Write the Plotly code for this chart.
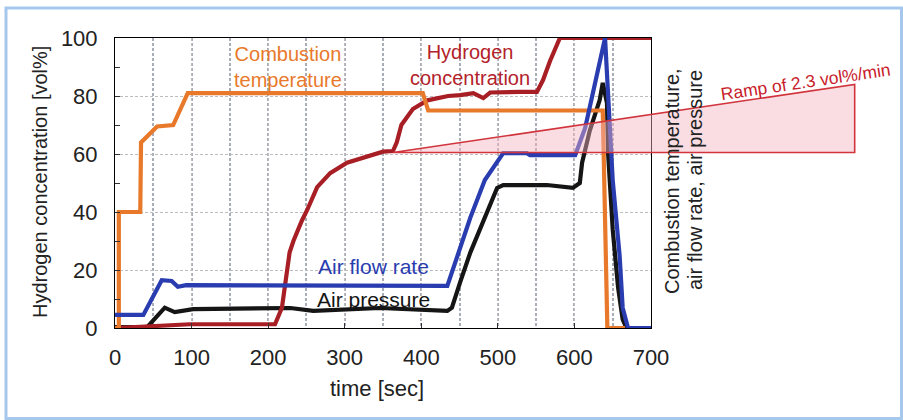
import plotly.graph_objects as go

# ---------------- data ----------------
time_h2 = [0, 63, 98, 209, 212, 218, 228, 233, 244, 251, 264, 281, 303, 329, 350, 363,
           368, 374, 389, 408, 435, 451, 468, 481, 490, 529, 551, 559, 568, 581, 700]
h2_conc = [0, 0.7, 1.3, 1.3, 3, 7, 26, 30, 37, 40.7, 48.6, 53.4, 57, 59, 60.8, 61,
           64, 70, 75.5, 78.5, 80, 80.3, 81, 79.3, 81.2, 81.4, 81.4, 85.5, 92, 100, 100]

time_comb = [0, 5, 5, 33, 34, 55, 76, 95, 402, 409, 637, 643, 666]
comb_temp = [0, 0, 40, 40, 64, 69.5, 70, 81, 81, 75, 75, 0, 0]

time_air = [0, 37, 61, 74, 82, 93, 434, 451, 464, 483, 507, 538, 542, 601, 614, 627,
            640, 650, 654, 659, 663, 670, 700]
air_flow = [4.5, 4.5, 16.5, 16.2, 14.2, 14.8, 14.5, 28, 38, 51, 60.3, 60.3, 59.6, 59.6,
            69, 84.5, 100, 51, 40, 25, 7, 0, 0]

time_pres = [0, 42, 65, 78, 102, 229, 259, 346, 434, 440, 451, 464, 499, 507, 564, 598,
             607, 610, 620, 633, 637, 642.5, 644, 647, 650, 657, 663, 668, 700]
air_pres = [0.3, 0.3, 7, 5.5, 6.5, 6.9, 5.9, 6.9, 5.9, 7, 16, 26, 48.3, 49.3, 49.3, 48.3,
            50, 57, 68, 78.6, 84.5, 77.6, 60, 48, 34, 14, 3, 0, 0]

# ramp annotation (triangle): start point and end point of the 2.3 vol%/min ramp
ramp_t = [363, 966]
ramp_h = [60.5, 84]

x_ticks = [0, 100, 200, 300, 400, 500, 600, 700]
y_ticks = [0, 20, 40, 60, 80, 100]
X_MAX, Y_MAX = 700, 100

# ---------------- colours ----------------
C_ORANGE = "#e8792b"
C_RED = "#a81e25"
C_BLUE = "#2a3db0"
C_BLACK = "#151515"
FONT = "Liberation Sans, Arial, sans-serif"

# plot area in pixels
L, R, T, B = 115, 651, 38, 328
W, H = 903, 420


def px_x(px):
    return (px - L) / (R - L)


def px_y(py):
    return (B - py) / (B - T)


fig = go.Figure()
fig.add_trace(go.Scatter(x=time_pres, y=air_pres, mode="lines",
                         line=dict(color=C_BLACK, width=4.2), name="Air pressure"))
fig.add_trace(go.Scatter(x=time_h2, y=h2_conc, mode="lines",
                         line=dict(color=C_RED, width=4.2), name="Hydrogen concentration"))
fig.add_trace(go.Scatter(x=time_comb, y=comb_temp, mode="lines",
                         line=dict(color=C_ORANGE, width=4.2), name="Combustion temperature"))
fig.add_trace(go.Scatter(x=time_air, y=air_flow, mode="lines",
                         line=dict(color=C_BLUE, width=4.2), name="Air flow rate"))

fig.update_xaxes(range=[0, X_MAX], tickvals=x_ticks, ticks="inside", ticklen=5,
                 tickcolor="#333", showline=True, linecolor="black", linewidth=1,
                 mirror=True, showgrid=True, gridcolor="#bdbdbd", gridwidth=1,
                 griddash="3px,2px", zeroline=False,
                 minor=dict(dtick=50, showgrid=True, gridcolor="#a9adb8", gridwidth=1.5),
                 tickfont=dict(size=22, color="#222", family=FONT),
                 ticklabelstandoff=10)
fig.update_yaxes(range=[0, Y_MAX], tickvals=y_ticks, ticks="inside", ticklen=5,
                 tickcolor="#333", showline=True, linecolor="black", linewidth=1,
                 mirror=True, showgrid=True, gridcolor="#bdbdbd", gridwidth=1,
                 griddash="3px,2px", zeroline=False,
                 minor=dict(dtick=10, ticks="inside", ticklen=5, tickcolor="#333",
                            showgrid=False),
                 tickfont=dict(size=22, color="#222", family=FONT),
                 ticklabelstandoff=12)

# ramp triangle (paper coords derived from data values)
tx0, tx1 = ramp_t[0] / X_MAX, ramp_t[1] / X_MAX
ty0, ty1 = ramp_h[0] / Y_MAX, ramp_h[1] / Y_MAX
shapes = [
    dict(type="path", xref="paper", yref="paper",
         path=f"M {tx0} {ty0} L {tx1} {ty0} L {tx1} {ty1} Z",
         fillcolor="rgba(244,180,190,0.45)", line=dict(color="#d1343c", width=1.6),
         layer="above"),
    dict(type="rect", xref="paper", yref="paper",
         x0=px_x(6), x1=px_x(901.5), y0=px_y(418.5), y1=px_y(8),
         line=dict(color="#a6c8ec", width=3), fillcolor="rgba(0,0,0,0)", layer="below"),
]

ann = []


def text(s, px, py, color="#222", size=20, angle=0):
    ann.append(dict(text=s, x=px_x(px), y=px_y(py), xref="paper", yref="paper",
                    showarrow=False, textangle=angle, xanchor="center", yanchor="middle",
                    font=dict(color=color, size=size, family=FONT)))


text("Combustion<br>temperature", 288, 67, color=C_ORANGE)
text("Hydrogen<br>concentration", 470, 65, color="#b3222a")
text("Air flow rate", 373, 266, color=C_BLUE, size=21)
text("Air pressure", 373, 299, color=C_BLACK, size=21)
text("Ramp of 2.3 vol%/min", 805, 82, color="#c8202a", size=17.5, angle=-8.4)
text("Hydrogen concentration [vol%]", 40, 182, angle=-90)
text("time [sec]", 377, 388, size=22)
text("Combustion temperature,", 672, 181, angle=-90)
text("air flow rate, air pressure", 695, 180, angle=-90)

fig.update_layout(width=W, height=H, margin=dict(l=L, r=W - R, t=T, b=H - B),
                  paper_bgcolor="white", plot_bgcolor="white", showlegend=False,
                  font=dict(family=FONT, size=20, color="#222"),
                  shapes=shapes, annotations=ann)

fig.write_html("out.html", config={"displayModeBar": False},
               post_script="document.body.style.margin='0px';")
